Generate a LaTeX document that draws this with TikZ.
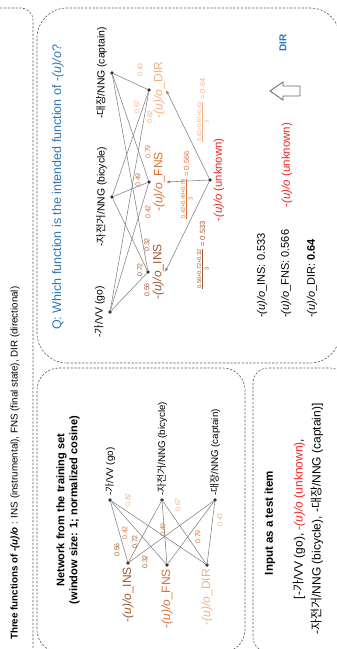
\documentclass[tikz,border=0pt]{standalone}
\usepackage{amsmath}
\usepackage{fontspec}
\setmainfont{Liberation Sans}
\newfontfamily\krfont{Noto Sans CJK KR}
\usetikzlibrary{positioning,arrows.meta}

\definecolor{insc}{RGB}{160,88,48}
\definecolor{fnsc}{RGB}{218,112,50}
\definecolor{dirc}{RGB}{245,176,130}
\definecolor{qblue}{RGB}{46,117,182}
\definecolor{unkred}{RGB}{240,36,36}

\newcommand{\kr}[1]{{\krfont #1}}
\newcommand{\uo}{-\textit{(u)/o}}
\newcommand{\fsz}[1]{\fontsize{#1}{#1}\selectfont}
\newcommand{\avgfrac}[2]{$\frac{\mbox{\fsz{5.6}#1}}{\mbox{\fsz{5.6}3}}$\,{\fsz{7.5}= #2}}

\begin{document}
\begin{tikzpicture}[x=1pt, y=1pt, rotate=90, transform shape,
  panel/.style={draw=black!65, dash pattern=on 2.2pt off 1.6pt, line width=0.6pt},
  dot/.style={circle, fill=black!80, inner sep=0pt, minimum size=3.6pt},
  link/.style={draw=black!50, line width=0.55pt},
  wt/.style={font=\fsz{7}, inner sep=0.5pt},
  wordlbl/.style={inner sep=1pt},
  fnlbl/.style={inner sep=1pt}]
\useasboundingbox (0,0) rectangle (649,-337);
\clip (0,0) rectangle (649,-337);

%frames
\draw[panel, rounded corners=12] (-20,20) rectangle (641,-33);
\draw[panel, rounded corners=30] (286,-37) rectangle (641,-340);
\draw[panel, rounded corners=22] (-3,-37) rectangle (281,-245);
\draw[panel, rounded corners=15] (-3,-253) rectangle (281,-345);

\node[anchor=west, inner sep=0, font=\fsz{9.8}] (title) at (9,-15)
  {{\bfseries Three functions of -\textit{(u)/o}} : INS (instrumental), FNS (final state), DIR (directional)};

%network from the training set
\node[align=center, inner sep=0, font=\bfseries\fontsize{11}{13}\selectfont] (nettitle) at (139,-68)
  {Network from the training set\\(window size: 1; normalized cosine)};
\node[dot] (ngo) at (149,-110) {};
\node[dot] (nbic) at (149,-162) {};
\node[dot] (ncap) at (149,-215) {};
\node[dot] (nins) at (86,-128) {};
\node[dot] (nfns) at (84,-167) {};
\node[dot] (ndir) at (84,-207) {};
\node[wordlbl, font=\fsz{9.8}, right=1pt of ngo] (ngolbl) {-\kr{가}/VV (go)};
\node[wordlbl, font=\fsz{9.8}, right=1pt of nbic] (nbiclbl) {-\kr{자전거}/NNG (bicycle)};
\node[wordlbl, font=\fsz{9.8}, right=1pt of ncap] (ncaplbl) {-\kr{대장}/NNG (captain)};
\node[fnlbl, font=\fsz{12}, text=insc, left=1pt of nins] (ninslbl) {\uo\_INS};
\node[fnlbl, font=\fsz{12}, text=fnsc, left=1pt of nfns] (nfnslbl) {\uo\_FNS};
\node[fnlbl, font=\fsz{12}, text=dirc, left=1pt of ndir] (ndirlbl) {\uo\_DIR};
\foreach \w in {ngo,nbic,ncap}
  \foreach \f in {nins,nfns,ndir}
    \draw[link] (\w) -- (\f);
\foreach \t/\col/\x/\y [count=\i] in {0.56/insc/99/117, 0.42/fnsc/116/125, 0.72/insc/107/135,
    0.82/dirc/149/128, 0.32/insc/87/145, 0.49/fnsc/119/163, 0.67/dirc/144/178,
    0.79/fnsc/112/198, 0.43/dirc/129/220}
  \node[wt, text=\col] (nw\i) at (\x,-\y) {\t};

%test item
\node[inner sep=0, font=\bfseries\fsz{11.5}] (inputtitle) at (126,-270) {Input as a test item};
\node[align=center, inner sep=0, font=\fontsize{12}{18}\selectfont] (inputitems) at (130,-308)
  {[-\kr{가}/VV (go), \textcolor{unkred}{\uo\ (unknown)},\\-\kr{자전거}/NNG (bicycle), -\kr{대장}/NNG (captain)]};

%question
\node[anchor=west, inner sep=0, text=qblue, font=\fsz{12.5}] (qtext) at (319,-58)
  {Q: Which function is the intended function of \uo?};
\node[dot] (qgo) at (337,-110) {};
\node[dot] (qbic) at (452,-112) {};
\node[dot] (qcap) at (576,-112) {};
\node[dot] (qins) at (377,-148) {};
\node[dot] (qfns) at (467,-149) {};
\node[dot] (qdir) at (559,-149) {};
\node[dot] (qunk) at (469,-210) {};
\node[wordlbl, font=\fsz{10.4}, above=2pt of qgo] (qgolbl) {-\kr{가}/VV (go)};
\node[wordlbl, font=\fsz{10.4}, above=2pt of qbic] (qbiclbl) {-\kr{자전거}/NNG (bicycle)};
\node[wordlbl, font=\fsz{10.4}, above=2pt of qcap] (qcaplbl) {-\kr{대장}/NNG (captain)};
\node[fnlbl, font=\fsz{12}, text=insc, below=1.5pt of qins] (qinslbl) {\uo\_INS};
\node[fnlbl, font=\fsz{12}, text=fnsc, below=1.5pt of qfns] (qfnslbl) {\uo\_FNS};
\node[fnlbl, font=\fsz{12}, text=dirc, below=1.5pt of qdir] (qdirlbl) {\uo\_DIR};
\node[fnlbl, font=\fsz{11.3}, text=unkred, below=0.5pt of qunk] (qunklbl) {\uo\ (unknown)};
\foreach \w in {qgo,qbic,qcap}
  \foreach \f in {qins,qfns,qdir}
    \draw[link] (\w) -- (\f);
\foreach \f in {qins,qfns,qdir}
  \draw[link, -{Latex[length=4pt, width=3pt]}] (qunk) -- (\f lbl.south);
\foreach \t/\col/\x/\y [count=\i] in {0.56/insc/359/147, 0.72/insc/379/140, 0.32/insc/404/147,
    0.42/fnsc/437/148, 0.49/fnsc/469/138, 0.79/fnsc/497/148,
    0.82/dirc/532/150, 0.67/dirc/542/137, 0.43/dirc/579/140}
  \node[wt, text=\col] (qw\i) at (\x,-\y) {\t};
\node[anchor=west, inner sep=0, text=insc] (avgins) at (359,-203) {\avgfrac{0.56+0.72+0.32}{0.533}};
\node[anchor=west, inner sep=0, text=fnsc] (avgfns) at (429,-187) {\avgfrac{0.42+0.49+0.79}{0.566}};
\node[anchor=west, inner sep=0, text=dirc] (avgdir) at (506,-203) {\avgfrac{0.82+0.67+0.43}{0.64}};

%answer
\node[anchor=west, inner sep=0, font=\fsz{11}] (sins) at (331,-262) {\uo\_INS: 0.533};
\node[anchor=west, inner sep=0, font=\fsz{11}] (sfns) at (331,-286) {\uo\_FNS: 0.566};
\node[anchor=west, inner sep=0, font=\fsz{11}] (sdir) at (331,-312) {\uo\_DIR: \textbf{0.64}};
\node[inner sep=0, text=unkred, font=\fsz{11.5}] (unkans) at (484,-287) {\uo\ (unknown)};
\draw[draw=black!60, fill=white, line width=0.8pt] (553,-300) -- (553,-283) -- (549,-283) -- (558,-270)
  -- (567,-283) -- (563,-283) -- (563,-300) -- cycle;
\node[inner sep=0, text=qblue, font=\bfseries\fsz{10}] (ansdir) at (606,-283) {DIR};
\end{tikzpicture}
\end{document}
